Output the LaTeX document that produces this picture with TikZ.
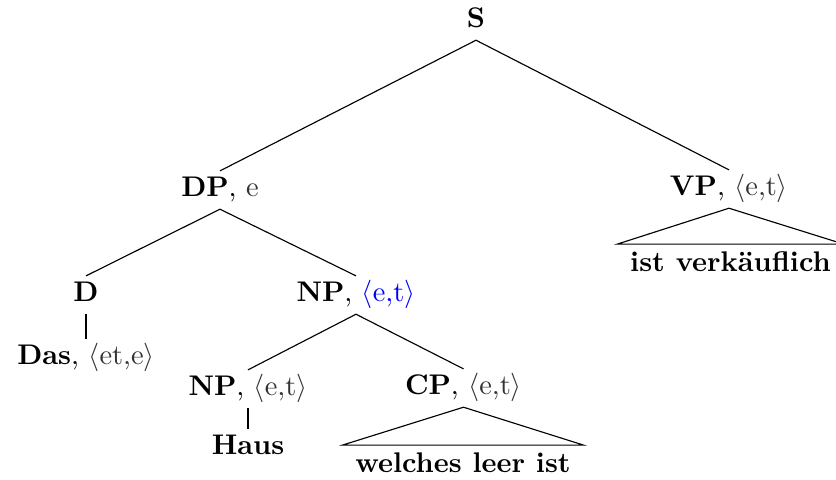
\documentclass[tikz,border=0pt]{standalone}
\begin{document}
\begin{tikzpicture}[x=0.352pt,y=-0.352pt,
  lab/.style={anchor=base,inner sep=2.3pt,outer sep=0pt,text height=6.9pt,text depth=2pt,font=\bfseries},
  leaf/.style={anchor=base,inner ysep=2.9pt,inner xsep=0pt,outer sep=0pt,text height=6.9pt,text depth=2pt,font=\bfseries},
  edge/.style={draw=black,line width=0.4pt}]
\useasboundingbox (0,0) rectangle (836,480);
\node[lab] (s) at (476,28) {S};
\node[lab] (dp) at (220,197) {DP\mdseries, {\color{black!80}e}};
\node[lab] (vp) at (729,196) {VP\mdseries, {\color{black!80}$\langle$e,t$\rangle$}};
\node[leaf] (vpl) at (730.5,272) {ist verkäuflich};
\node[lab] (d) at (86,302) {D};
\node[lab] (das) at (86,365) {Das\mdseries, {\color{black!80}$\langle$et,e$\rangle$}};
\node[lab] (np) at (356,302) {NP\mdseries, {\color{blue}$\langle$e,t$\rangle$}};
\node[lab] (np2) at (248,396) {NP\mdseries, {\color{black!80}$\langle$e,t$\rangle$}};
\node[lab] (haus) at (248,455) {Haus};
\node[lab] (cp) at (463.5,395) {CP\mdseries, {\color{black!80}$\langle$e,t$\rangle$}};
\node[leaf] (cpl) at (463,473) {welches leer ist};
\draw[edge] (s.south) -- (dp.north);
\draw[edge] (s.south) -- (vp.north);
\draw[edge] (dp.south) -- (d.north);
\draw[edge] (dp.south) -- (np.north);
\draw[edge] (d.south) -- (das.north);
\draw[edge] (np.south) -- (np2.north);
\draw[edge] (np.south) -- (cp.north);
\draw[edge] (np2.south) -- (haus.north);
\draw[edge] (vp.south) -- ([xshift=-4.6pt]vpl.north west) -- ([xshift=4.6pt]vpl.north east) -- cycle;
\draw[edge] (cp.south) -- ([xshift=-4.6pt]cpl.north west) -- ([xshift=4.6pt]cpl.north east) -- cycle;
\end{tikzpicture}
\end{document}
